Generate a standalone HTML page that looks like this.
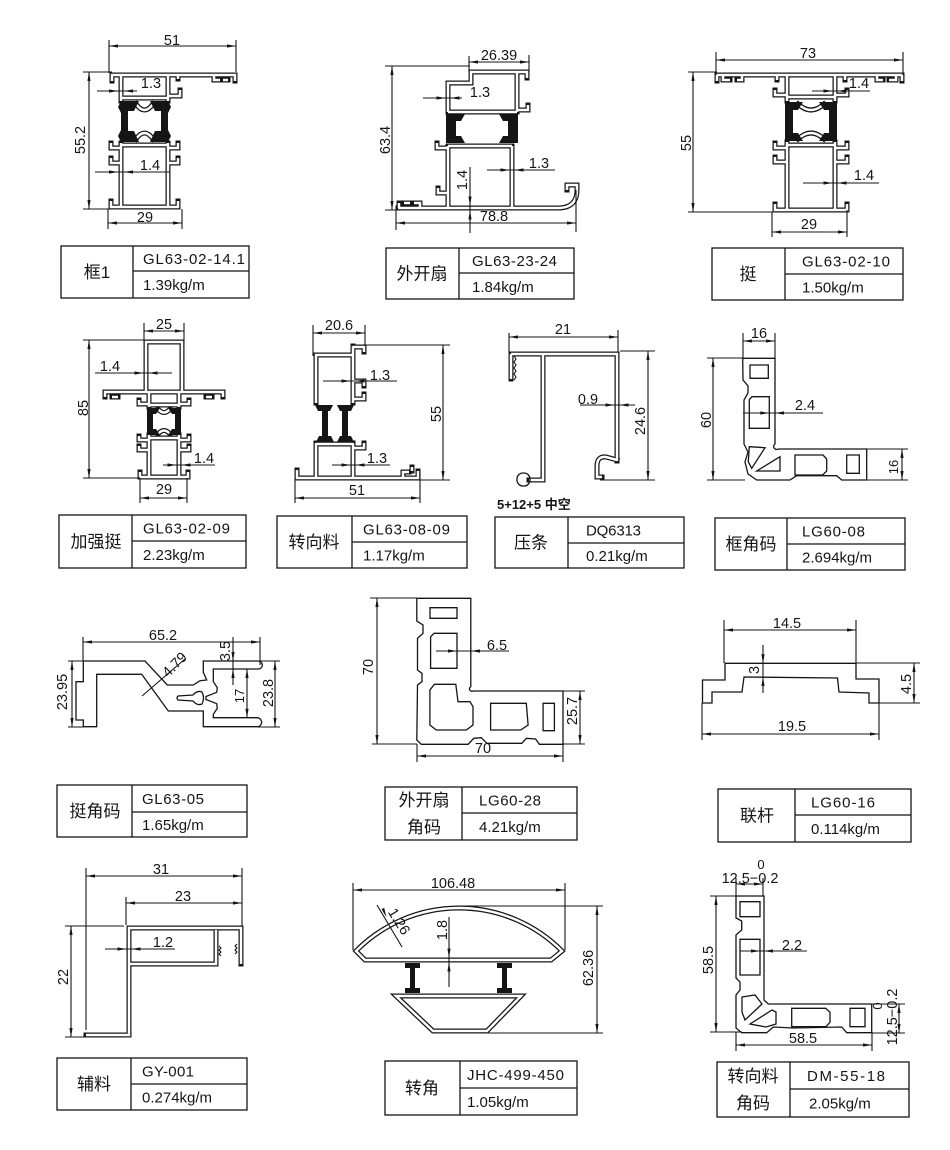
<!DOCTYPE html>
<html><head><meta charset="utf-8"><style>
html,body{margin:0;padding:0;background:#fff}
svg{display:block}
text{font-family:"Liberation Sans","Noto Sans CJK SC",sans-serif;fill:#151515}
.d{stroke:#151515;stroke-width:1.1;fill:none}
.o{stroke:#151515;stroke-width:1.3;fill:none}
.t{font-size:14.5px;text-anchor:middle}
.c{font-size:17px;text-anchor:middle}
.k{font-size:15px}
.b{fill:#151515}
</style></head><body>
<svg width="950" height="1150" viewBox="0 0 950 1150" xmlns="http://www.w3.org/2000/svg">
<defs>
<marker id="m" viewBox="0 0 9 3.2" refX="9" refY="1.6" markerWidth="9" markerHeight="3.2" markerUnits="userSpaceOnUse" orient="auto-start-reverse"><path d="M0,0L9,1.6L0,3.2Z" fill="#151515"/></marker>
<g id="W">
<!-- D1 -->
<path d="M112,81 L112,75 L235,75 L235,81"/><path d="M214,75 L214,80 L220,80"/><path d="M228,80 L223,80"/><path d="M178,75 L178,79"/>
<path d="M121,75 L121,101"/><path d="M168,75 L168,101"/><path d="M121,98 L168,98"/><path d="M168,96 L180,96 L180,90"/>
<path d="M121,143 L121,207"/><path d="M168,143 L168,207"/><path d="M121,145 L168,145"/>
<path d="M121,148 L111,148 L111,143"/><path d="M121,163 L111,163 L111,158"/><path d="M168,148 L178,148 L178,143"/><path d="M168,163 L178,163 L178,158"/>
<path d="M111,201 L111,207 L178,207 L178,201"/>
<path d="M136,104 Q144.5,116 153,104"/><path d="M136,139 Q144.5,127 153,139"/>
<!-- D2 -->
<path d="M448,112 L448,83 L471,83 L471,72 L527,72 L527,78"/><path d="M517,72 L517,112"/><path d="M517,110 L528,110 L528,105"/><path d="M448,112 L517,112"/>
<path d="M448,146 L512,146"/><path d="M448,146 L448,207"/><path d="M512,146 L512,207"/>
<path d="M448,148 L437,148 L437,143"/><path d="M448,193 L438,193 L438,188"/>
<path d="M398,208 L560,208 Q577,207 577,190 L577,185 L567,185 L567,190"/><path d="M399,208 L399,203"/><path d="M404,203 L410,203"/><path d="M414,203 L420,203 L420,208"/>
<!-- D3 -->
<path d="M717,81 L717,75 L902,75 L902,81"/><path d="M723,75 L723,80 L730,80"/><path d="M737,80 L742,80 L742,76"/><path d="M889,80 L896,80 L896,75"/><path d="M877,76 L877,80 L883,80"/>
<path d="M777,75 L777,80"/><path d="M845,75 L845,80"/>
<path d="M787,75 L787,101"/><path d="M835,75 L835,101"/><path d="M787,97 L835,97"/>
<path d="M787,95 L775,95 L775,90"/><path d="M835,95 L847,95 L847,90"/>
<path d="M787,142 L787,210"/><path d="M835,142 L835,210"/><path d="M787,145 L835,145"/>
<path d="M787,148 L775,148 L775,143"/><path d="M787,162 L775,162 L775,157"/><path d="M835,148 L847,148 L847,143"/><path d="M835,162 L847,162 L847,157"/>
<path d="M775,204 L775,210 L847,210 L847,204"/>
<path d="M798,104 Q811,116 824,104"/><path d="M798,139 Q811,127 824,139"/>
<!-- D4 -->
<path d="M146,392 L146,342 L182,342 L182,392"/>
<path d="M105,397 L105,392 L223,392 L223,397"/><path d="M112,397 L118,397"/><path d="M206,397 L212,397"/>
<path d="M149,392 L149,407"/><path d="M179,392 L179,407"/><path d="M149,405 L179,405"/>
<path d="M149,404 L139,404 L139,400"/><path d="M179,404 L189,404 L189,400"/>
<path d="M149,435 L149,477"/><path d="M179,435 L179,477"/><path d="M149,438 L179,438"/>
<path d="M149,440 L139,440 L139,436"/><path d="M149,450 L139,450 L139,446"/><path d="M179,440 L189,440 L189,436"/><path d="M179,450 L189,450 L189,446"/>
<path d="M140,472 L140,477 L188,477 L188,472"/>
<path d="M158,409 Q164,416 170,409"/><path d="M158,434 Q164,427 170,434"/>
<!-- D5 -->
<path d="M316,403 L316,355 L353,355"/><path d="M353,346 L353,403"/><path d="M353,347 L364,347 L364,352"/>
<path d="M353,381 L364,381 L364,386"/><path d="M353,399 L364,399 L364,394"/>
<path d="M316,443 L316,478"/><path d="M353,443 L353,478"/><path d="M316,444 L353,444"/><path d="M353,448 L364,448 L364,443"/>
<path d="M297,470 L297,478 L418,478 L418,471"/><path d="M403,478 L403,472 L409,472"/><path d="M412,471 L412,467"/>
<!-- D6 -->
<path d="M511,354 L617,354 L617,461"/><path d="M617,460 L606,457 Q597,456 597,466 L597,477 L602,477"/>
<path d="M543,354 L543,480 L529,480"/><path d="M511,354 L511,379"/>
<!-- D11 -->
<path d="M86,1035 L129,1035 L129,928 L241,928 L241,964"/><path d="M129,964 L216,964 L216,930"/>
<!-- D12 -->
<path d="M356,951 A145,145 0 0 1 562,951 L551,960 L365,960 Z"/>
<path d="M396,996 L521,996 L487,1031 L433,1031 Z"/>
</g>
</defs>

<use href="#W" fill="none" stroke="#151515" stroke-width="5" stroke-linecap="square" stroke-linejoin="miter"/>
<use href="#W" fill="none" stroke="#fff" stroke-width="2.5" stroke-linecap="butt" stroke-linejoin="miter"/>

<!-- thermal breaks -->
<g class="b">
<path d="M121,101 L139,101 L134,111 L128,111 L128,131 L134,131 L139,142 L121,142 L118,136 L121,130 L121,113 L118,107 Z"/>
<path d="M168,101 L150,101 L155,111 L161,111 L161,131 L155,131 L150,142 L168,142 L171,136 L168,130 L168,113 L171,107 Z"/>
<path d="M446,114 L465,114 L461,121 L456,121 L456,136 L461,136 L465,143 L446,143 Z"/>
<path d="M518,114 L499,114 L503,121 L508,121 L508,136 L503,136 L499,143 L518,143 Z"/>
<path d="M785,102 L803,102 L798,110 L793,110 L793,133 L798,133 L803,141 L785,141 Z"/>
<path d="M837,102 L819,102 L824,110 L829,110 L829,133 L824,133 L819,141 L837,141 Z"/>
<path d="M147,408 L160,408 L156,414 L153,414 L153,429 L156,429 L160,435 L147,435 Z"/>
<path d="M181,408 L168,408 L172,414 L175,414 L175,429 L172,429 L168,435 L181,435 Z"/>
<path d="M315,405 L333,405 L330,411 L328,411 L328,436 L331,436 L334,442 L316,442 L319,436 L322,436 L322,411 L318,411 Z"/>
<path d="M337,405 L354,405 L351,411 L348,411 L348,436 L351,436 L354,442 L337,442 L340,436 L342,436 L342,411 L340,411 Z"/>
<path d="M405,963 L420,963 L420,968 L415,968 L415,988 L420,988 L420,993 L405,993 L405,988 L410,988 L410,968 L405,968 Z"/>
<path d="M497,963 L512,963 L512,968 L507,968 L507,988 L512,988 L512,993 L497,993 L497,988 L502,988 L502,968 L497,968 Z"/>
</g>

<!-- misc fine lines -->
<path class="d" d="M514,356 l2,3 l-2,3 l2,3 l-2,3 l2,3 l-2,3 l2,3 l-2,3"/>
<rect class="o" x="517" y="473" width="13" height="13" rx="6"/>
<path class="d" d="M219,946 l2,2 l-2,2 l2,2 l-2,2 l2,2 M237,944 l-2,2 l2,2 l-2,2 l2,2 l-2,2"/>

<!-- outlined profiles -->
<g class="o">
<!-- D7 -->
<path d="M742.7,358.3 L775,358.3 L775,444 A2.5,2.5 0 1 0 778.3,449 L866.7,449 L866.7,480 L841.7,480 L836.7,475.7 L796.7,475.7 L790,480 L756.7,480 L748,474 L745,462 L748,452 L744,444 L744,400 L748,393 L748,386 L743,380 Z"/>
<path d="M750,365 h18.3 v13.3 h-18.3 Z"/>
<path d="M752,396.7 h17.3 v31.6 h-20 v-28.6 Z"/>
<path d="M749.3,446.7 L765,447.7 L751.7,468.3 L748.3,461.7 Z"/>
<path d="M756.7,471 L780,456.7 L780,471 Z"/>
<path d="M795,455 h28 l3.7,4 v12 l-4,4 h-27.7 Z"/>
<path d="M846.7,455 h12.6 v18.3 h-12.6 Z"/>
<!-- D8 -->
<path d="M83.3,661 L145,661 L167.3,685 L193.3,685 L200,680.7 L206.7,680 L203.3,672.3 L203.3,661 L258.3,661 A4,4 0 0 1 258.3,669 L213.3,669 L213.3,681.7 L217.3,687.7 L216.7,692.3 L211.7,694.3 L206,696.5 L206,699.5 L211.7,701.7 L216.7,703.7 L217.3,708.3 L213.3,714.3 L213.3,717.7 L256.7,717.7 A4.6,4.6 0 0 1 258.3,726.7 L203.3,726.7 L203.3,711 L168.3,711 L141.7,674.3 L96.7,674.3 L96.7,726.7 L83.3,726.7 L83.3,720 L76,720 L76,681.7 L83.3,681.7 Z"/>
<path d="M178,696 L193,695 Q197,690 202,692 Q205,698 202,704 Q197,706 193,701 L178,700 Q176,698 178,696 Z"/>
<!-- D9 -->
<path d="M416.8,598.3 L470.8,598.3 L470.8,686.7 A2.4,2.4 0 1 0 473,691 L563,691 L563,744.3 L539.4,744.3 L535.6,739 L526.3,738.3 L521.8,743.3 L486.9,743.3 L481.3,737.7 L473.8,738.3 L468.1,744.3 L421.3,744.3 L416.8,740 L417.5,685 L422,681.7 L422,673.3 L417.5,670 L417.5,638.3 L423,633.3 L423,625 L416.8,621 Z"/>
<path d="M430,607.7 h27 v10.6 h-27 Z"/>
<path d="M434,633.3 h23 v35 h-26.4 v-31.5 Z"/>
<path d="M434.4,684.3 L455.8,684.3 L458,701.7 L470,701.7 L473,706.7 L473,725 L466.3,730 L436.3,730 L429.9,725 L429.9,690 Z"/>
<path d="M490.6,703.3 L526.3,703.3 L528.1,725 L520.6,730 L490.6,730 Z"/>
<path d="M543.1,703.3 h11.3 v27.4 h-11.3 Z"/>
<!-- D10 -->
<path d="M702.5,680 L725,680 L725,663.3 L856,663.3 L856,679 L879,679 L879,703 L869,703 L869,693 L839,692 L837.5,678 L744,677 L742,692 L712,692 L712,703 L702.5,703 Z"/>
<!-- D13 -->
<path d="M736,896 L764,896 L764,1000 L768.3,1004 L871.7,1004 L871.7,1032.7 L846.7,1032.7 L841.7,1027 L793.3,1028 L773.3,1027 L766.7,1032.7 L741.7,1032.7 L736,1028 L736,995 L740,990 L740,982 L736,978 L736,935 L741.7,930 L741.7,921 L736,918 Z"/>
<path d="M740,901.7 h20 v15 h-20 Z"/>
<path d="M740,939.3 h20 v35.7 h-20 Z"/>
<path d="M742,997 L755,995 L762,1004 L745,1020 L742,1012 Z"/>
<path d="M750,1024 L772,1010 L776,1012 L776,1024 L766,1027 Z"/>
<path d="M791.7,1008.3 h34 l4.3,4 v10 l-4,4.4 h-34.3 Z"/>
<path d="M850,1008.3 h15 v18.4 h-15 Z"/>
</g>

<!-- dimension & extension lines -->
<g class="d">
<!-- D1 -->
<path d="M109,40 L109,73 M236,40 L236,72 M83,72 L112,72 M83,209 L125,209 M108,209 L108,229 M182,209 L182,229"/>
<path d="M109,46 L236,46" marker-start="url(#m)" marker-end="url(#m)"/>
<path d="M89,72 L89,209" marker-start="url(#m)" marker-end="url(#m)"/>
<path d="M108,223 L182,223" marker-start="url(#m)" marker-end="url(#m)"/>
<path d="M97,91 L137,91 M95,172 L170,172"/>
<!-- D2 -->
<path d="M469,56 L469,72 M529,55 L529,72 M385,66 L470,66 M385,210 L400,210 M396,210 L396,230 M576,190 L576,232"/>
<path d="M469,62 L529,62" marker-start="url(#m)" marker-end="url(#m)"/>
<path d="M392,66 L392,210" marker-start="url(#m)" marker-end="url(#m)"/>
<path d="M396,223 L576,223" marker-start="url(#m)" marker-end="url(#m)"/>
<path d="M423,98 L462,98 M487,170 L555,170 M470,167 L470,233"/>
<!-- D3 -->
<path d="M716,52 L716,75 M903,52 L903,75 M688,72 L717,72 M688,212 L775,212 M772,212 L772,237 M847,210 L847,237"/>
<path d="M716,60 L903,60" marker-start="url(#m)" marker-end="url(#m)"/>
<path d="M693,72 L693,212" marker-start="url(#m)" marker-end="url(#m)"/>
<path d="M772,232 L847,232" marker-start="url(#m)" marker-end="url(#m)"/>
<path d="M812,91 L870,91 M803,183 L879,183"/>
<!-- D4 -->
<path d="M144,323 L144,342 M184,323 L184,342 M83,340 L146,340 M83,478 L140,478 M140,478 L140,503 M187,478 L187,503"/>
<path d="M144,331 L184,331" marker-start="url(#m)" marker-end="url(#m)"/>
<path d="M89,340 L89,478" marker-start="url(#m)" marker-end="url(#m)"/>
<path d="M140,498 L187,498" marker-start="url(#m)" marker-end="url(#m)"/>
<path d="M95,373 L172,373 M163,465 L215,465"/>
<!-- D5 -->
<path d="M313,325 L313,356 M365,325 L365,346 M365,345 L450,345 M410,480 L450,480 M295,478 L295,503 M420,472 L420,503"/>
<path d="M313,333 L365,333" marker-start="url(#m)" marker-end="url(#m)"/>
<path d="M443,345 L443,480" marker-start="url(#m)" marker-end="url(#m)"/>
<path d="M295,498 L420,498" marker-start="url(#m)" marker-end="url(#m)"/>
<path d="M323,381 L397,381 M332,465 L390,465"/>
<!-- D6 -->
<path d="M509,333 L509,352 M618,330 L618,352 M620,351 L655,351 M600,480 L655,480"/>
<path d="M509,337 L618,337" marker-start="url(#m)" marker-end="url(#m)"/>
<path d="M648,351 L648,480" marker-start="url(#m)" marker-end="url(#m)"/>
<path d="M580,405 L635,405"/>
<!-- D7 -->
<path d="M743,333 L743,358 M775,333 L775,358 M707,358 L743,358 M707,480 L745,480 M867,449 L908,449 M867,480 L908,480"/>
<path d="M743,341 L775,341" marker-start="url(#m)" marker-end="url(#m)"/>
<path d="M713,358 L713,480" marker-start="url(#m)" marker-end="url(#m)"/>
<path d="M902,449 L902,480" marker-start="url(#m)" marker-end="url(#m)"/>
<path d="M743,413 L823,413"/>
<!-- D8 -->
<path d="M83,637 L83,661 M260,637 L260,665 M68,661 L84,661 M68,727 L84,727 M258,661 L280,661 M258,727 L280,727"/>
<path d="M83,642 L260,642" marker-start="url(#m)" marker-end="url(#m)"/>
<path d="M72,661 L72,727" marker-start="url(#m)" marker-end="url(#m)"/>
<path d="M247,669 L247,717.7" marker-start="url(#m)" marker-end="url(#m)"/>
<path d="M275,661 L275,727" marker-start="url(#m)" marker-end="url(#m)"/>
<path d="M233,637 L233,685 M142,696 L185,659"/>
<!-- D9 -->
<path d="M370,598 L417,598 M372,744 L417,744 M563,691 L585,691 M563,744 L585,744 M417,744 L417,762 M563,744 L563,762"/>
<path d="M377,598 L377,744" marker-start="url(#m)" marker-end="url(#m)"/>
<path d="M580,691 L580,744" marker-start="url(#m)" marker-end="url(#m)"/>
<path d="M417,756 L563,756" marker-start="url(#m)" marker-end="url(#m)"/>
<path d="M436,651 L509,651"/>
<!-- D10 -->
<path d="M724,620 L724,663 M856,620 L856,663 M856,663 L920,663 M879,703 L920,703 M702,703 L702,740 M879,703 L879,740"/>
<path d="M724,630 L856,630" marker-start="url(#m)" marker-end="url(#m)"/>
<path d="M914,663 L914,703" marker-start="url(#m)" marker-end="url(#m)"/>
<path d="M702,734 L879,734" marker-start="url(#m)" marker-end="url(#m)"/>
<path d="M763,645 L763,693"/>
<!-- D11 -->
<path d="M86,868 L86,1030 M242,868 L242,926 M126,897 L126,925 M65,926 L124,926 M65,1037 L84,1037"/>
<path d="M86,876 L242,876" marker-start="url(#m)" marker-end="url(#m)"/>
<path d="M126,903 L242,903" marker-start="url(#m)" marker-end="url(#m)"/>
<path d="M71,926 L71,1037" marker-start="url(#m)" marker-end="url(#m)"/>
<path d="M105,949 L175,949"/>
<!-- D12 -->
<path d="M353,883 L353,950 M565,883 L565,950 M457,906 L603,906 M487,1033 L603,1033"/>
<path d="M353,890 L565,890" marker-start="url(#m)" marker-end="url(#m)"/>
<path d="M597,906 L597,1033" marker-start="url(#m)" marker-end="url(#m)"/>
<path d="M377,905 L402,947 M449,917 L449,987"/>
<!-- D13 -->
<path d="M736,878 L736,896 M763,878 L763,896 M710,896 L736,896 M710,1032 L742,1032 M872,1004 L905,1004 M872,1033 L905,1033 M736,1032 L736,1051 M872,1032 L872,1051"/>
<path d="M736,884 L763,884" marker-start="url(#m)" marker-end="url(#m)"/>
<path d="M716,896 L716,1032" marker-start="url(#m)" marker-end="url(#m)"/>
<path d="M899,1004 L899,1033" marker-start="url(#m)" marker-end="url(#m)"/>
<path d="M736,1045 L872,1045" marker-start="url(#m)" marker-end="url(#m)"/>
<path d="M740,951 L807,951"/>
</g>

<!-- inward arrowheads -->
<g class="b">
<polygon points="109,89.4 118,91 109,92.6"/><polygon points="133,89.4 124,91 133,92.6"/>
<polygon points="109,170.4 118,172 109,173.6"/><polygon points="133,170.4 124,172 133,173.6"/>
<polygon points="436.5,96.4 445.5,98 436.5,99.6"/><polygon points="459.5,96.4 450.5,98 459.5,99.6"/>
<polygon points="500.5,168.4 509.5,170 500.5,171.6"/><polygon points="523.5,168.4 514.5,170 523.5,171.6"/>
<polygon points="468.4,196.5 470,205.5 471.6,196.5"/><polygon points="468.4,219.5 470,210.5 471.6,219.5"/>
<polygon points="823.5,89.4 832.5,91 823.5,92.6"/><polygon points="846.5,89.4 837.5,91 846.5,92.6"/>
<polygon points="823.5,181.4 832.5,183 823.5,184.6"/><polygon points="846.5,181.4 837.5,183 846.5,184.6"/>
<polygon points="134.5,371.4 143.5,373 134.5,374.6"/><polygon points="157.5,371.4 148.5,373 157.5,374.6"/>
<polygon points="167.5,463.4 176.5,465 167.5,466.6"/><polygon points="190.5,463.4 181.5,465 190.5,466.6"/>
<polygon points="341.5,379.4 350.5,381 341.5,382.6"/><polygon points="364.5,379.4 355.5,381 364.5,382.6"/>
<polygon points="341.5,463.4 350.5,465 341.5,466.6"/><polygon points="364.5,463.4 355.5,465 364.5,466.6"/>
<polygon points="605.5,403.4 614.5,405 605.5,406.6"/><polygon points="628.5,403.4 619.5,405 628.5,406.6"/>
<polygon points="760.3,411.4 769.3,413 760.3,414.6"/><polygon points="784,411.4 775,413 784,414.6"/>
<polygon points="231.4,652 233,661 234.6,652"/><polygon points="231.4,678 233,669 234.6,678"/>
<polygon points="448,649.4 457,651 448,652.6"/><polygon points="480,649.4 471,651 480,652.6"/>
<polygon points="761.4,654.3 763,663.3 764.6,654.3"/><polygon points="761.4,686 763,677 764.6,686"/>
<polygon points="117.5,947.4 126.5,949 117.5,950.6"/><polygon points="140.5,947.4 131.5,949 140.5,950.6"/>
<polygon points="447.4,948.5 449,957.5 450.6,948.5"/><polygon points="447.4,971.5 449,962.5 450.6,971.5"/>
<polygon points="381.5,909 386.5,917.5 384.2,908"/>
<polygon points="751,949.4 760,951 751,952.6"/><polygon points="773,949.4 764,951 773,952.6"/>
</g>

<!-- dimension text -->
<g class="t">
<text x="172" y="45">51</text>
<text transform="translate(85,140) rotate(-90)">55.2</text>
<text x="151" y="88">1.3</text>
<text x="150" y="170">1.4</text>
<text x="145" y="222">29</text>

<text x="499" y="60">26.39</text>
<text transform="translate(390,140) rotate(-90)">63.4</text>
<text x="480" y="97">1.3</text>
<text x="539" y="168">1.3</text>
<text transform="translate(467,180) rotate(-90)">1.4</text>
<text x="494" y="221">78.8</text>

<text x="808" y="58">73</text>
<text transform="translate(691,143) rotate(-90)">55</text>
<text x="859" y="88">1.4</text>
<text x="864" y="180">1.4</text>
<text x="809" y="229">29</text>

<text x="164" y="329">25</text>
<text transform="translate(88,408) rotate(-90)">85</text>
<text x="110" y="371">1.4</text>
<text x="204" y="463">1.4</text>
<text x="164" y="494">29</text>

<text x="339" y="330">20.6</text>
<text transform="translate(441,414) rotate(-90)">55</text>
<text x="380" y="380">1.3</text>
<text x="377" y="463">1.3</text>
<text x="357" y="495">51</text>

<text x="563" y="334">21</text>
<text transform="translate(645,421) rotate(-90)">24.6</text>
<text x="588" y="404">0.9</text>

<text x="759" y="338">16</text>
<text transform="translate(711,420) rotate(-90)">60</text>
<text x="805" y="410">2.4</text>
<text transform="translate(898,467) rotate(-90)" style="font-size:13px">16</text>

<text x="163" y="640">65.2</text>
<text transform="translate(67,692) rotate(-90)">23.95</text>
<text transform="translate(230,651) rotate(-90)">3.5</text>
<text transform="translate(244,696) rotate(-90)" style="font-size:13px">17</text>
<text transform="translate(273,693) rotate(-90)">23.8</text>
<text transform="translate(178,668) rotate(-45)">4.79</text>

<text transform="translate(373,667) rotate(-90)">70</text>
<text x="497" y="650">6.5</text>
<text transform="translate(577,711) rotate(-90)">25.7</text>
<text x="483" y="753">70</text>

<text x="787" y="628">14.5</text>
<text transform="translate(759,670) rotate(-90)">3</text>
<text transform="translate(911,684) rotate(-90)">4.5</text>
<text x="792" y="731">19.5</text>

<text x="161" y="874">31</text>
<text x="183" y="901">23</text>
<text transform="translate(68,977) rotate(-90)">22</text>
<text x="163" y="947">1.2</text>

<text x="453" y="888">106.48</text>
<text transform="translate(395,924) rotate(58)">1.26</text>
<text transform="translate(447,930) rotate(-90)">1.8</text>
<text transform="translate(593,968) rotate(-90)">62.36</text>

<text x="761" y="869" style="font-size:13px">0</text>
<text x="750" y="883">12.5−0.2</text>
<text transform="translate(713,960) rotate(-90)">58.5</text>
<text x="792" y="950">2.2</text>
<text transform="translate(882,1006) rotate(-90)" style="font-size:13px">0</text>
<text transform="translate(897,1017) rotate(-90)">12.5−0.2</text>
<text x="803" y="1043">58.5</text>
</g>
<text x="497" y="509" style="font-size:13px;font-weight:bold">5+12+5 中空</text>

<!-- tables -->
<g class="o">
<rect x="61" y="246" width="188" height="52"/><path d="M133,246 V298 M133,271 H249"/>
<rect x="386" y="248" width="188" height="51"/><path d="M459,248 V299 M459,273 H574"/>
<rect x="712" y="248" width="191" height="52"/><path d="M785,248 V300 M785,274 H903"/>
<rect x="59" y="515" width="187" height="53"/><path d="M132,515 V568 M132,541 H246"/>
<rect x="277" y="516" width="190" height="52"/><path d="M352,516 V568 M352,542 H467"/>
<rect x="495" y="517" width="189" height="51"/><path d="M568,517 V568 M568,543 H684"/>
<rect x="715" y="518" width="190" height="52"/><path d="M787,518 V570 M787,544 H905"/>
<rect x="57" y="785" width="190" height="52"/><path d="M132,785 V837 M132,812 H247"/>
<rect x="385" y="787" width="192" height="53"/><path d="M462,787 V840 M462,813 H577"/>
<rect x="718" y="789" width="193" height="53"/><path d="M795,789 V842 M795,815 H911"/>
<rect x="57" y="1058" width="190" height="52"/><path d="M131,1058 V1110 M131,1084 H247"/>
<rect x="385" y="1061" width="192" height="54"/><path d="M460,1061 V1115 M460,1088 H577"/>
<rect x="717" y="1062" width="192" height="55"/><path d="M790,1062 V1117 M790,1089 H909"/>
</g>
<g class="c">
<text x="97" y="278">框1</text>
<text x="422" y="279.5">外开扇</text>
<text x="748" y="280">挺</text>
<text x="96" y="547.5">加强挺</text>
<text x="314" y="548">转向料</text>
<text x="531" y="548.5">压条</text>
<text x="751" y="550">框角码</text>
<text x="95" y="817">挺角码</text>
<text x="424" y="806">外开扇</text>
<text x="424" y="833">角码</text>
<text x="757" y="821.5">联杆</text>
<text x="94" y="1090">辅料</text>
<text x="422" y="1094">转角</text>
<text x="753" y="1082">转向料</text>
<text x="753" y="1109">角码</text>
</g>
<g class="k">
<text x="143" y="264" textLength="102">GL63-02-14.1</text><text x="143" y="290">1.39kg/m</text>
<text x="472" y="266" textLength="85">GL63-23-24</text><text x="472" y="292">1.84kg/m</text>
<text x="802" y="266.5" textLength="88">GL63-02-10</text><text x="802" y="292.5">1.50kg/m</text>
<text x="143" y="533.5" textLength="87">GL63-02-09</text><text x="143" y="560">2.23kg/m</text>
<text x="363" y="534.5" textLength="87">GL63-08-09</text><text x="363" y="560.5">1.17kg/m</text>
<text x="586" y="535.5" textLength="55">DQ6313</text><text x="586" y="561">0.21kg/m</text>
<text x="802" y="536.5" textLength="63">LG60-08</text><text x="802" y="562.5">2.694kg/m</text>
<text x="142" y="804" textLength="62">GL63-05</text><text x="142" y="830">1.65kg/m</text>
<text x="479" y="805.5" textLength="62">LG60-28</text><text x="479" y="832">4.21kg/m</text>
<text x="811" y="807.5" textLength="64">LG60-16</text><text x="811" y="834">0.114kg/m</text>
<text x="142" y="1076.5" textLength="52">GY-001</text><text x="142" y="1102.5">0.274kg/m</text>
<text x="467" y="1080" textLength="97">JHC-499-450</text><text x="467" y="1107">1.05kg/m</text>
<text x="807" y="1081" textLength="78">DM-55-18</text><text x="809" y="1108.5">2.05kg/m</text>
</g>
</svg>
</body></html>
